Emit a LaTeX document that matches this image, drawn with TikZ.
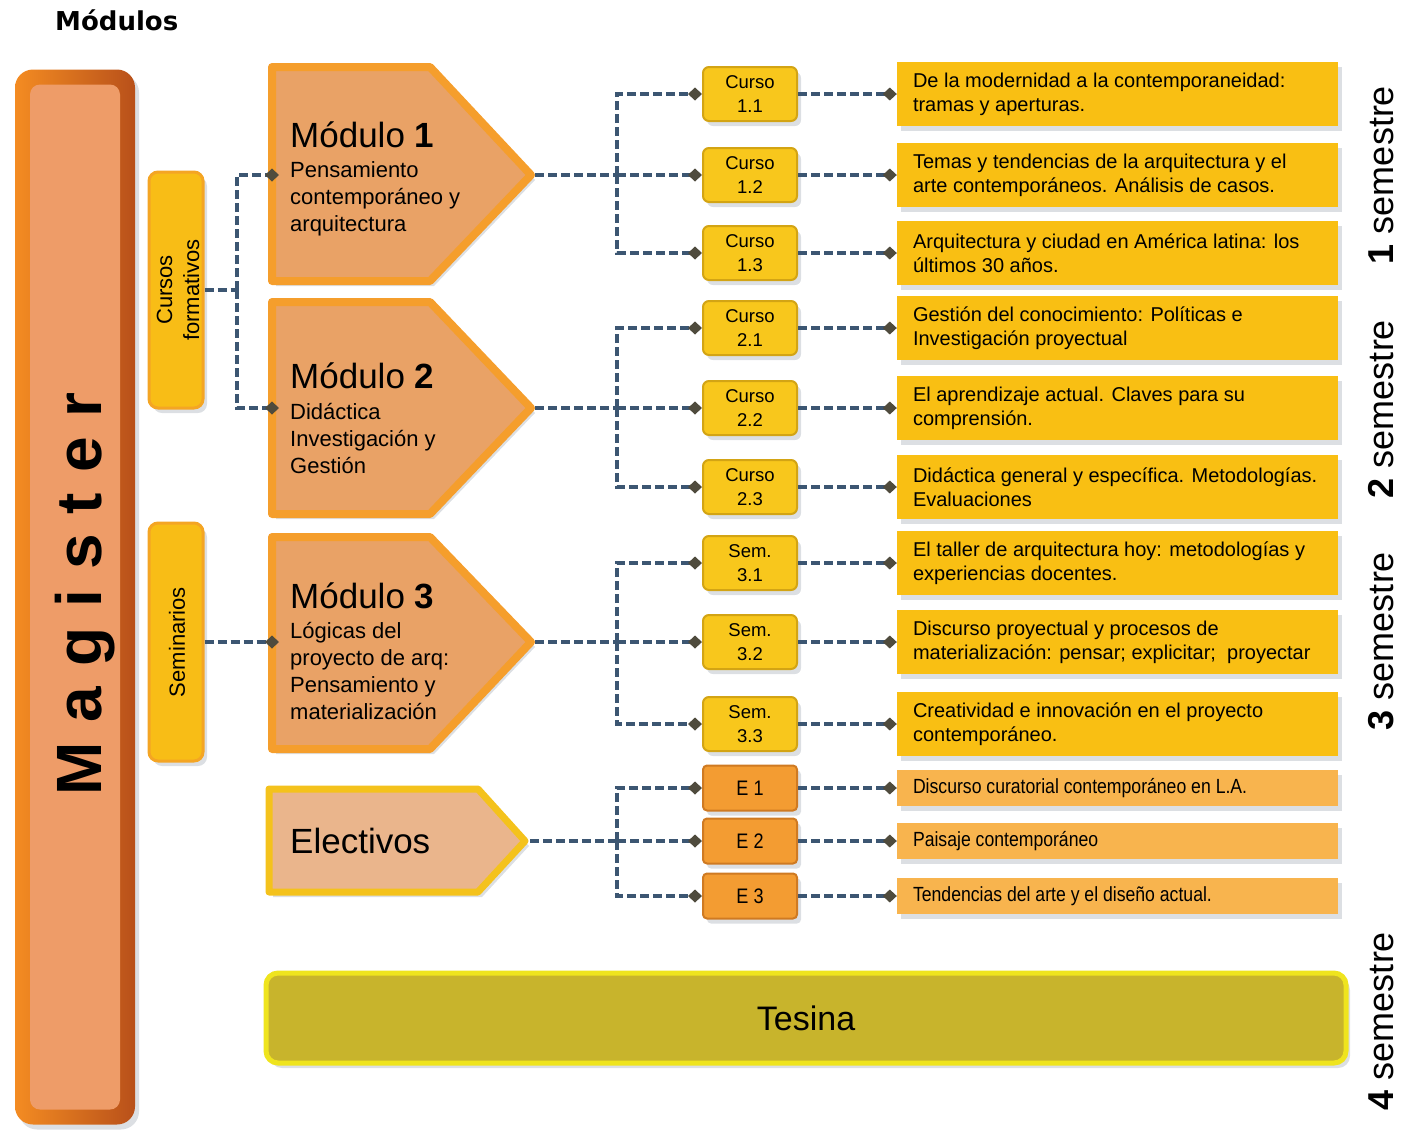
\documentclass[tikz,border=0pt]{standalone}
\usepackage{fontspec}
\setmainfont{Liberation Sans}
\newfontfamily\titlefont{DejaVu Sans}
\newfontfamily\narrowfont[FakeStretch=0.86]{Liberation Sans}
\usetikzlibrary{arrows.meta,shadows}
\definecolor{dashc}{HTML}{3C5672}
\definecolor{diamc}{HTML}{4F4B3D}
\definecolor{maglight}{HTML}{F48C22}
\definecolor{magout}{HTML}{EF7E1C}
\definecolor{magdark}{HTML}{B8501A}
\definecolor{magfill}{HTML}{EE9C68}
\definecolor{modfill}{HTML}{E9A266}
\definecolor{modline}{HTML}{F59E2C}
\definecolor{sidefill}{HTML}{F8BD16}
\definecolor{sideline}{HTML}{F4A524}
\definecolor{cursofill}{HTML}{F8C71C}
\definecolor{cursoline}{HTML}{D3A414}
\definecolor{descfill}{HTML}{F9BF13}
\definecolor{efill}{HTML}{F39C32}
\definecolor{eline}{HTML}{CF7A22}
\definecolor{edesc}{HTML}{F8B44E}
\definecolor{elecfill}{HTML}{EAB58C}
\definecolor{elecline}{HTML}{F4C21C}
\definecolor{tesfill}{HTML}{C8B42C}
\definecolor{tesline}{HTML}{EFE41E}
\definecolor{shadowc}{HTML}{9AA4AE}
\newcommand{\fsz}[2]{\fontsize{#1}{#2}\selectfont}
\newcommand{\msp}{\kern20pt}
\begin{document}
\begin{tikzpicture}[x=1pt,y=-1pt,
  dshadow/.style={drop shadow={shadow xshift=4pt,shadow yshift=-5pt,opacity=0.35,fill=shadowc}},
  conn/.style={draw=dashc,line width=3.5pt,dash pattern=on 9pt off 4pt},
  tipd/.style={-{Diamond[length=14pt,width=13pt,color=diamc,fill=diamc]}},
  modshape/.style={fill=modfill,draw=modline,line width=8pt,line join=round,dshadow},
  modtitle/.style={font=\fsz{35}{40},anchor=base west,inner sep=0pt},
  modsub/.style={font=\fsz{22}{27},align=left,anchor=base west,inner sep=0pt},
  sidebox/.style={fill=sidefill,draw=sideline,line width=3pt,rounded corners=9pt,minimum width=54pt,inner sep=0pt,dshadow},
  sidetext/.style={rotate=90,font=\fsz{22}{27},align=center,inner sep=0pt},
  cursobox/.style={fill=cursofill,draw=cursoline,line width=2pt,rounded corners=6pt,minimum width=94pt,minimum height=54pt,align=center,font=\fsz{18.5}{24},inner sep=0pt,dshadow},
  ebox/.style={fill=efill,draw=eline,line width=2pt,rounded corners=4pt,minimum width=94pt,minimum height=45pt,font=\narrowfont\fsz{21}{24},inner sep=0pt,dshadow},
  descbox/.style={fill=descfill,minimum width=441pt,minimum height=64pt,inner sep=0pt,dshadow},
  edescbox/.style={fill=edesc,minimum width=441pt,minimum height=36pt,inner sep=0pt,dshadow},
  desctext/.style={anchor=west,align=left,font=\fsz{20}{24},inner sep=0pt,xshift=16pt},
  edesctext/.style={anchor=west,align=left,font=\narrowfont\fsz{20.5}{24},inner sep=0pt,xshift=16pt},
  semtext/.style={rotate=90,font=\fsz{36}{40},inner sep=0pt},
]
\useasboundingbox (0,0) rectangle (1408,1136);
\node[anchor=base west,inner sep=0pt,font=\titlefont\bfseries\fsz{26}{30}] (title) at (55,30) {Módulos};

% Magister bar
\node[dshadow,rounded corners=18pt,minimum width=120pt,minimum height=1055pt,left color=maglight,middle color=magout,right color=magdark,inner sep=0pt] (mag) at (75,597) {};
\node[fill=magfill,rounded corners=10pt,minimum width=90pt,minimum height=1025pt,inner sep=0pt] (magi) at (75,597) {};
\node[rotate=90,anchor=base,font=\bfseries\fsz{64}{70},inner sep=0pt] (magt) at (101,594) {M\msp a\msp g\msp i\msp s\msp t\msp e\msp r};

% side boxes
\node[sidebox,minimum height=236pt] (cf) at (176,290) {};
\node[sidetext] (cft) at (178,290) {Cursos\\formativos};
\node[sidebox,minimum height=238pt] (sem) at (176,642) {};
\node[sidetext] (semt) at (177,642) {Seminarios};

% modules (multi-line base anchor = last line)
\path[modshape] (272,67) -- (430,67) -- (531,175) -- (430,281) -- (272,281) -- cycle;
\coordinate (m1tip) at (535,175);
\coordinate (m1in) at (279,175);
\node[modtitle] (m1t) at (290,147) {Módulo \textbf{1}};
\node[modsub] (m1s) at (290,231) {Pensamiento\\contemporáneo y\\arquitectura};

\path[modshape] (272,302) -- (430,302) -- (531,408) -- (430,514) -- (272,514) -- cycle;
\coordinate (m2tip) at (535,408);
\coordinate (m2in) at (279,408);
\node[modtitle] (m2t) at (290,388) {Módulo \textbf{2}};
\node[modsub] (m2s) at (290,473) {Didáctica\\Investigación y\\Gestión};

\path[modshape] (272,537) -- (430,537) -- (531,642) -- (430,749) -- (272,749) -- cycle;
\coordinate (m3tip) at (535,642);
\coordinate (m3in) at (279,642);
\node[modtitle] (m3t) at (290,608) {Módulo \textbf{3}};
\node[modsub] (m3s) at (290,719) {Lógicas del\\proyecto de arq:\\Pensamiento y\\materialización};

\path[fill=elecfill,draw=elecline,line width=7pt,line join=round,dshadow] (269,789) -- (478,789) -- (525,841) -- (478,892) -- (269,892) -- cycle;
\coordinate (eltip) at (530,841);
\node[anchor=base west,inner sep=0pt,font=\fsz{35}{40}] (elt) at (290,853) {Electivos};

% course boxes
\node[cursobox] (c11) at (750,94) {Curso\\1.1};
\node[cursobox] (c12) at (750,175) {Curso\\1.2};
\node[cursobox] (c13) at (750,253) {Curso\\1.3};
\node[cursobox] (c21) at (750,328) {Curso\\2.1};
\node[cursobox] (c22) at (750,408) {Curso\\2.2};
\node[cursobox] (c23) at (750,487) {Curso\\2.3};
\node[cursobox] (s31) at (750,563) {Sem.\\3.1};
\node[cursobox] (s32) at (750,642) {Sem.\\3.2};
\node[cursobox] (s33) at (750,724) {Sem.\\3.3};
\node[ebox] (e1) at (750,788) {E 1};
\node[ebox] (e2) at (750,841) {E 2};
\node[ebox] (e3) at (750,896) {E 3};

% description boxes
\node[descbox] (d11) at (1117.5,94) {};
\node[desctext] (d11t) at (d11.west) {De la modernidad a la contemporaneidad:\\tramas y aperturas.};
\node[descbox] (d12) at (1117.5,175) {};
\node[desctext] (d12t) at (d12.west) {Temas y tendencias de la arquitectura y el\\arte contemporáneos. Análisis de casos.};
\node[descbox] (d13) at (1117.5,253) {};
\node[desctext] (d13t) at (d13.west) {Arquitectura y ciudad en América latina: los\\últimos 30 años.};
\node[descbox] (d21) at (1117.5,328) {};
\node[desctext] (d21t) at (d21.west) {Gestión del conocimiento: Políticas e\\Investigación proyectual};
\node[descbox] (d22) at (1117.5,408) {};
\node[desctext] (d22t) at (d22.west) {El aprendizaje actual. Claves para su\\comprensión.};
\node[descbox] (d23) at (1117.5,487) {};
\node[desctext] (d23t) at (d23.west) {Didáctica general y específica. Metodologías.\\Evaluaciones};
\node[descbox] (d31) at (1117.5,563) {};
\node[desctext] (d31t) at (d31.west) {El taller de arquitectura hoy: metodologías y\\experiencias docentes.};
\node[descbox] (d32) at (1117.5,642) {};
\node[desctext] (d32t) at (d32.west) {Discurso proyectual y procesos de\\materialización: pensar; explicitar;\ \ proyectar};
\node[descbox] (d33) at (1117.5,724) {};
\node[desctext] (d33t) at (d33.west) {Creatividad e innovación en el proyecto\\contemporáneo.};
\node[edescbox] (de1) at (1117.5,788) {};
\node[edesctext] (de1t) at (de1.west) {Discurso curatorial contemporáneo en L.A.};
\node[edescbox] (de2) at (1117.5,841) {};
\node[edesctext] (de2t) at (de2.west) {Paisaje contemporáneo};
\node[edescbox] (de3) at (1117.5,896) {};
\node[edesctext] (de3t) at (de3.west) {Tendencias del arte y el diseño actual.};

% Tesina
\node[dshadow,fill=tesfill,draw=tesline,line width=5pt,rounded corners=12pt,minimum width=1080pt,minimum height=90pt,inner sep=0pt,font=\fsz{34}{40}] (tes) at (806,1018) {Tesina};

% semestre labels
\node[semtext] (sm1) at (1381,175) {\textbf{1} semestre};
\node[semtext] (sm2) at (1381,409) {\textbf{2} semestre};
\node[semtext] (sm3) at (1381,641) {\textbf{3} semestre};
\node[semtext] (sm4) at (1381,1021) {\textbf{4} semestre};

% connectors: side boxes to modules
\coordinate (jcf) at (237,290);
\draw[conn] (cf.east) -- (jcf);
\draw[conn,tipd] (jcf) |- (m1in);
\draw[conn,tipd] (jcf) |- (m2in);
\draw[conn,tipd] (sem.east) -- (m3in);

% module 1
\coordinate (j1) at (617,175);
\draw[conn] (m1tip) -- (j1);
\draw[conn,tipd] (j1) |- (c11.west);
\draw[conn,tipd] (j1) -- (c12.west);
\draw[conn,tipd] (j1) |- (c13.west);
% module 2
\coordinate (j2) at (617,408);
\draw[conn] (m2tip) -- (j2);
\draw[conn,tipd] (j2) |- (c21.west);
\draw[conn,tipd] (j2) -- (c22.west);
\draw[conn,tipd] (j2) |- (c23.west);
% module 3
\coordinate (j3) at (617,642);
\draw[conn] (m3tip) -- (j3);
\draw[conn,tipd] (j3) |- (s31.west);
\draw[conn,tipd] (j3) -- (s32.west);
\draw[conn,tipd] (j3) |- (s33.west);
% electivos
\coordinate (je) at (617,841);
\draw[conn] (eltip) -- (je);
\draw[conn,tipd] (je) |- (e1.west);
\draw[conn,tipd] (je) -- (e2.west);
\draw[conn,tipd] (je) |- (e3.west);

% courses to descriptions
\draw[conn,tipd] (c11.east) -- (d11.west);
\draw[conn,tipd] (c12.east) -- (d12.west);
\draw[conn,tipd] (c13.east) -- (d13.west);
\draw[conn,tipd] (c21.east) -- (d21.west);
\draw[conn,tipd] (c22.east) -- (d22.west);
\draw[conn,tipd] (c23.east) -- (d23.west);
\draw[conn,tipd] (s31.east) -- (d31.west);
\draw[conn,tipd] (s32.east) -- (d32.west);
\draw[conn,tipd] (s33.east) -- (d33.west);
\draw[conn,tipd] (e1.east) -- (de1.west);
\draw[conn,tipd] (e2.east) -- (de2.west);
\draw[conn,tipd] (e3.east) -- (de3.west);
\end{tikzpicture}
\end{document}
